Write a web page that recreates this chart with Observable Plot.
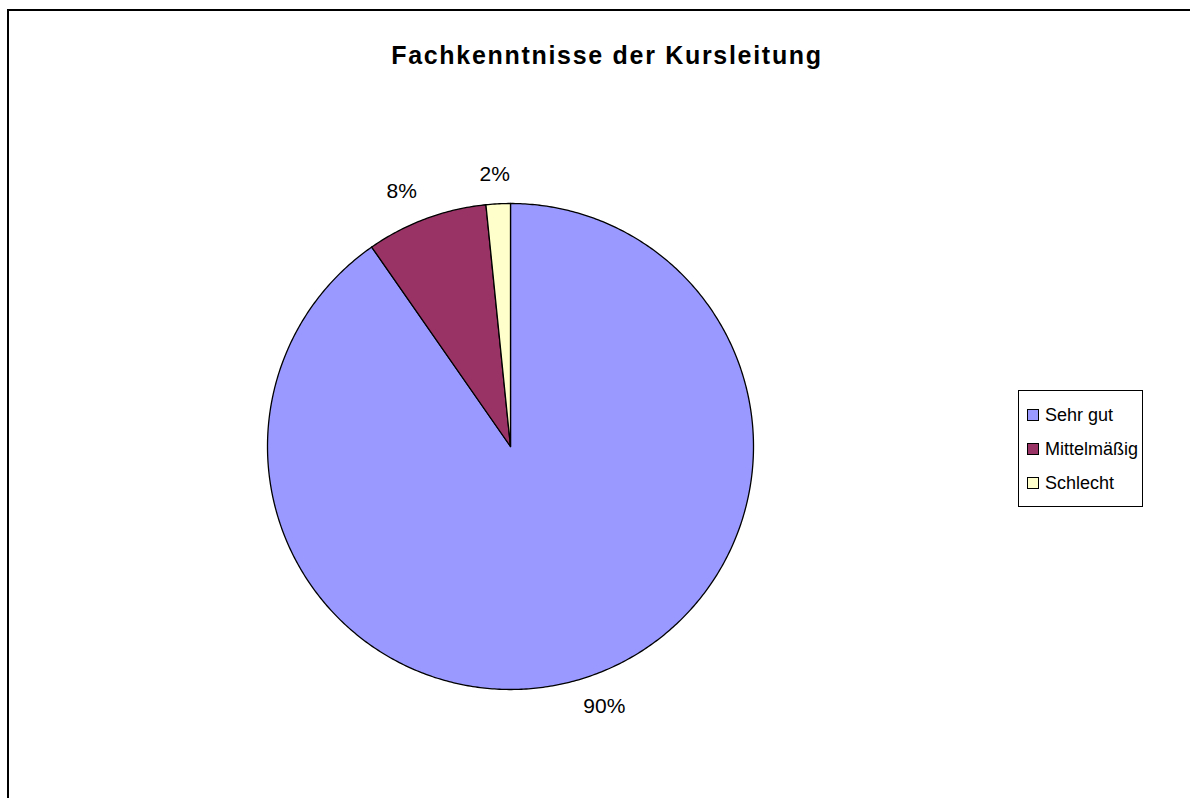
<!DOCTYPE html>
<html>
<head>
<meta charset="utf-8">
<script src="https://cdn.jsdelivr.net/npm/d3@7"></script>
<script src="https://cdn.jsdelivr.net/npm/@observablehq/plot@0.6"></script>
<style>
  html, body { margin: 0; padding: 0; background: #fff; }
  body { width: 1190px; height: 798px; overflow: hidden; position: relative; font-family: "Liberation Sans", Arial, sans-serif; }
  #frame { position: absolute; left: 7px; top: 9px; width: 1300px; height: 900px; border: 2px solid #000; box-sizing: border-box; }
  #title { position: absolute; left: 12px; top: 41px; width: 1190px; text-align: center; font-size: 25px; font-weight: bold; letter-spacing: 1.7px; }
  #chart { position: absolute; left: 0; top: 0; }
  #legend { position: absolute; left: 1018px; top: 390px; width: 125px; height: 117px; border: 1px solid #000; box-sizing: border-box; background: #fff; padding-top: 7px; }
  .item { display: flex; align-items: center; height: 34px; font-size: 18px; }
  .sw { width: 10px; height: 10px; border: 1px solid #000; margin-left: 8px; margin-right: 6px; }
</style>
</head>
<body>
<div id="frame"></div>
<div id="chart"></div>
<div id="title">Fachkenntnisse der Kursleitung</div>
<div id="legend"></div>
<script>
const categories = ["Sehr gut", "Mittelmäßig", "Schlecht"];
const values = [56, 5, 1];
const percentLabels = ["90%", "8%", "2%"];
const colors = ["#9999FF", "#993366", "#FFFFCC"];

const data = categories.map((c, i) => ({category: c, value: values[i], label: percentLabels[i]}));
const arcs = d3.pie().value(d => d.value).sort(null)(data);

// Build slice outlines (angle measured clockwise from 12 o'clock)
const polys = [];
for (const a of arcs) {
  const n = Math.max(4, Math.ceil((a.endAngle - a.startAngle) / 0.01));
  polys.push({category: a.data.category, x: 0, y: 0});
  for (let k = 0; k <= n; k++) {
    const t = a.startAngle + (a.endAngle - a.startAngle) * k / n;
    polys.push({category: a.data.category, x: Math.sin(t), y: Math.cos(t)});
  }
  polys.push({category: a.data.category, x: 0, y: 0});
}
const labelRx = 1.29, labelRy = 1.12;
const labels = arcs.map(a => {
  const m = (a.startAngle + a.endAngle) / 2;
  return {label: a.data.label, x: labelRx * Math.sin(m), y: labelRy * Math.cos(m)};
});

const plot = Plot.plot({
  width: 1190,
  height: 798,
  margin: 0,
  x: {domain: [-1, 1], range: [267, 753], axis: null},
  y: {domain: [-1, 1], range: [689, 203], axis: null},
  color: {domain: categories, range: colors},
  style: {background: "transparent", fontFamily: "'Liberation Sans', Arial, sans-serif"},
  marks: [
    Plot.line(polys, {x: "x", y: "y", z: "category", fill: "category", stroke: "#000", strokeWidth: 1.3, curve: "linear-closed"}),
    Plot.text(labels, {x: "x", y: "y", text: "label", fontSize: 21, fill: "#000", textAnchor: "middle"})
  ]
});
document.getElementById("chart").appendChild(plot);

const legend = document.getElementById("legend");
categories.forEach((c, i) => {
  const row = document.createElement("div");
  row.className = "item";
  const sw = document.createElement("div");
  sw.className = "sw";
  sw.style.background = colors[i];
  const t = document.createElement("span");
  t.textContent = c;
  row.appendChild(sw);
  row.appendChild(t);
  legend.appendChild(row);
});
</script>
</body>
</html>
